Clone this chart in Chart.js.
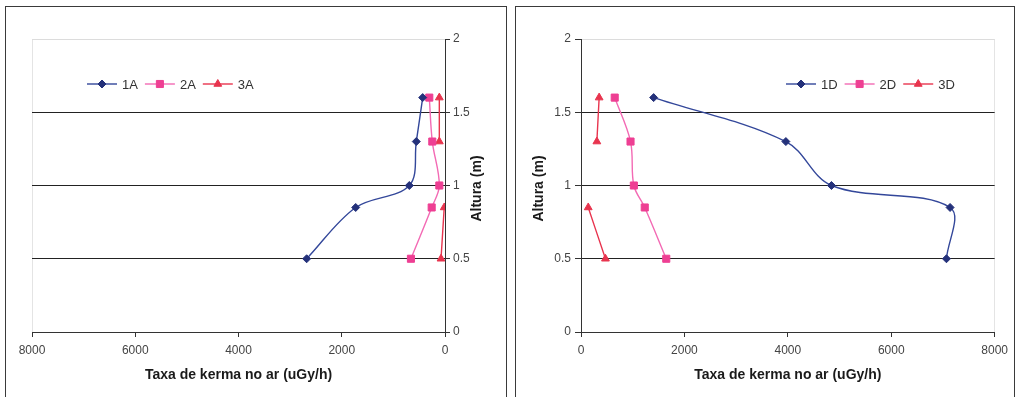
<!DOCTYPE html>
<html>
<head>
<meta charset="utf-8">
<script src="https://cdn.jsdelivr.net/npm/chart.js@4"></script>
<style>
  body { margin: 0; background: #fff; width: 1023px; height: 397px; overflow: hidden; position: relative; }
  .panel { position: absolute; top: 6px; height: 400px; border: 1px solid #3a3a3a; border-bottom: none; box-sizing: border-box; }
  #p1 { left: 5px; width: 502px; }
  #p2 { left: 515px; width: 500px; }
  .panel canvas { position: absolute; left: 0; top: 0; }
</style>
</head>
<body>
<div class="panel" id="p1"><canvas id="chartA" width="500" height="390"></canvas></div>
<div class="panel" id="p2"><canvas id="chartD" width="498" height="390"></canvas></div>
<script>
// heights (m) measured at each position
const heights = [1.6, 1.3, 1.0, 0.85, 0.5]

// kerma rate (uGy/h), null = no reading
const s1A = [432, 556, 691, 1730, 2680]
const s2A = [304, 246, 110, 258, 660]
const s3A = [110, 110, null, 15, 77]
const s1D = [1405, 3962, 4844, 7138, 7068]
const s2D = [652, 958, 1022, 1233, 1649]
const s3D = [351, 307, null, 140, 473]

const xTicks = [0, 2000, 4000, 6000, 8000]
const yTicks = [0, 0.5, 1, 1.5, 2]

const xTitle = 'Taxa de kerma no ar (uGy/h)'
const yTitle = 'Altura (m)'

const FONT = '"Liberation Sans", Arial, sans-serif'
const BLUE = '#33479a', BLUE_PT = '#24317a'
const PINK = '#f36ab4', PINK_PT = '#ee3f93'
const RED = '#e8344e'

const toPoints = (vals) => vals.map((v, i) => ({ x: v, y: v === null ? null : heights[i] }))

const makeSets = (names, series) => [
  { label: names[0], data: toPoints(series[0]), borderColor: BLUE, pointBackgroundColor: BLUE_PT, pointBorderColor: BLUE_PT, pointStyle: 'rectRot', pointRadius: 4 },
  { label: names[1], data: toPoints(series[1]), borderColor: PINK, pointBackgroundColor: PINK_PT, pointBorderColor: PINK_PT, pointStyle: 'rect', pointRadius: 5 },
  { label: names[2], data: toPoints(series[2]), borderColor: RED, pointBackgroundColor: RED, pointBorderColor: RED, pointStyle: 'triangle', pointRadius: 4.5 },
].map(d => Object.assign(d, { showLine: true, borderWidth: 1.4, tension: 0.35, spanGaps: false, pointBorderWidth: 1, pointHoverRadius: d.pointRadius }))

// legend drawn inside the plot area, like the original
const inlineLegend = {
  id: 'inlineLegend',
  afterDatasetsDraw(chart, args, opts) {
    const ctx = chart.ctx
    const a = chart.chartArea
    let x = a.left + opts.dx
    const y = a.top + opts.dy
    ctx.save()
    ctx.font = '13px ' + FONT
    ctx.textBaseline = 'middle'
    chart.data.datasets.forEach(ds => {
      ctx.strokeStyle = ds.borderColor
      ctx.lineWidth = ds.borderWidth
      ctx.beginPath(); ctx.moveTo(x, y); ctx.lineTo(x + 30, y); ctx.stroke()
      ctx.fillStyle = ds.pointBackgroundColor
      ctx.strokeStyle = ds.pointBorderColor
      ctx.lineWidth = 1
      Chart.helpers.drawPoint(ctx, { pointStyle: ds.pointStyle, radius: ds.pointRadius, borderWidth: 1, rotation: 0 }, x + 15, y)
      ctx.fillStyle = '#333'
      ctx.fillText(ds.label, x + 35, y + 1)
      x += 35 + ctx.measureText(ds.label).width + 7
    })
    ctx.restore()
  }
}

const axisTitles = {
  id: 'axisTitles',
  afterDraw(chart, args, opts) {
    const ctx = chart.ctx
    const a = chart.chartArea
    ctx.save()
    ctx.font = 'bold 14px ' + FONT
    ctx.fillStyle = '#1a1a1a'
    ctx.textAlign = 'center'
    ctx.textBaseline = 'middle'
    ctx.fillText(xTitle, (a.left + a.right) / 2, opts.xTitleY)
    ctx.translate(opts.yTitleX, (a.top + a.bottom) / 2 + 3)
    ctx.rotate(-Math.PI / 2)
    ctx.fillText(yTitle, 0, 0)
    ctx.restore()
  }
}

const makeOptions = (cfg) => ({
  responsive: false,
  animation: false,
  layout: { padding: cfg.padding },
  plugins: {
    legend: { display: false },
    tooltip: { enabled: false },
    inlineLegend: { dx: cfg.legendDx, dy: 45 },
    axisTitles: { xTitleY: 368, yTitleX: cfg.yTitleX },
  },
  scales: {
    x: {
      type: 'linear',
      reverse: cfg.reverse,
      min: xTicks[0], max: xTicks[xTicks.length - 1],
      afterFit: (s) => { s.height = 65 },
      afterBuildTicks: (s) => { s.ticks = xTicks.map(v => ({ value: v })) },
      ticks: { color: '#444', font: { family: FONT, size: 12 }, padding: 6, maxRotation: 0, callback: (v) => String(v) },
      grid: {
        drawOnChartArea: true,
        color: (c) => c.tick && c.tick.value === 8000 ? '#e4e4e4' : 'rgba(0,0,0,0)',
        tickColor: '#333', tickLength: 5, lineWidth: 1,
      },
      border: { display: true, color: '#333', width: 1 },
    },
    y: {
      type: 'linear',
      position: cfg.yPos,
      min: yTicks[0], max: yTicks[yTicks.length - 1],
      afterFit: (s) => { s.width = cfg.yWidth },
      afterBuildTicks: (s) => { s.ticks = yTicks.map(v => ({ value: v })) },
      ticks: { color: '#444', font: { family: FONT, size: 12 }, padding: cfg.yPad, callback: (v) => String(v) },
      grid: {
        color: (c) => {
          if (!c.tick) return '#222'
          if (c.tick.value === 2) return '#dcdcdc'
          if (c.tick.value === 0) return 'rgba(0,0,0,0)'
          return '#222'
        },
        tickColor: '#333', tickLength: cfg.yTick, lineWidth: 1,
      },
      border: { display: true, color: '#333', width: 1 },
    },
  },
})

new Chart(document.getElementById('chartA'), {
  type: 'scatter',
  data: { datasets: makeSets(['1A', '2A', '3A'], [s1A, s2A, s3A]) },
  options: makeOptions({ reverse: true, yPos: 'right', yWidth: 61, yTick: 5, yPad: 3, padding: { left: 26, top: 32, right: 0, bottom: 0 }, legendDx: 55, yTitleX: 471 }),
  plugins: [inlineLegend, axisTitles],
})

new Chart(document.getElementById('chartD'), {
  type: 'scatter',
  data: { datasets: makeSets(['1D', '2D', '3D'], [s1D, s2D, s3D]) },
  options: makeOptions({ reverse: false, yPos: 'left', yWidth: 65, yTick: 6, yPad: 4, padding: { left: 0, top: 32, right: 16, bottom: 0 }, legendDx: 205, yTitleX: 23 }),
  plugins: [inlineLegend, axisTitles],
})
</script>
</body>
</html>
